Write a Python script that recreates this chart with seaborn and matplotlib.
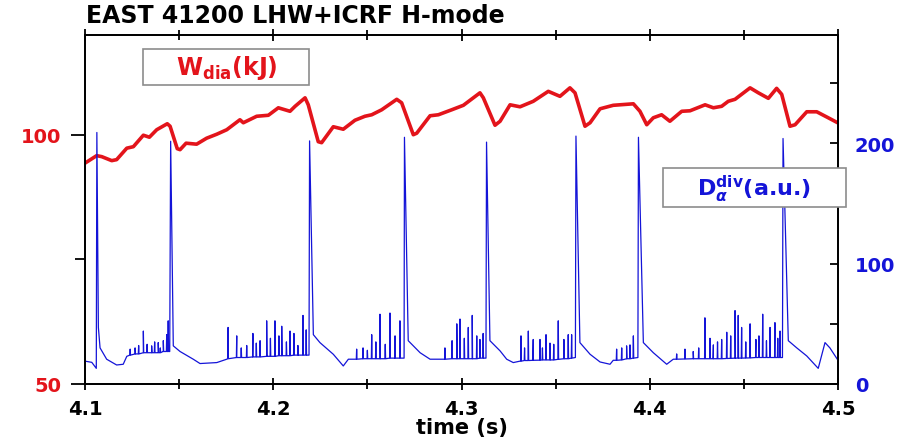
import numpy as np
import pandas as pd
import matplotlib
matplotlib.use("Agg")
import matplotlib.pyplot as plt
from matplotlib.patches import Rectangle
from matplotlib.ticker import MultipleLocator
import seaborn as sns

sns.set_theme(style="white")
plt.rcParams['font.family'] = ['DejaVu Sans']
plt.rcParams['mathtext.fontset'] = 'dejavusans'
plt.rcParams['mathtext.default'] = 'bf'

RED = '#e3141b'
BLUE = '#1414d8'

# ---- W_dia (kJ), left axis ----
w_time = [4.1000, 4.1062, 4.1089, 4.1142, 4.1168, 4.1222, 4.1257, 4.1310, 4.1342, 4.1381,
          4.1437, 4.1452, 4.1490, 4.1505, 4.1537, 4.1593, 4.1646, 4.1700, 4.1753, 4.1823,
          4.1841, 4.1912, 4.1974, 4.2027, 4.2089, 4.2116, 4.2169, 4.2186, 4.2239, 4.2257,
          4.2319, 4.2372, 4.2434, 4.2487, 4.2523, 4.2576, 4.2656, 4.2682, 4.2744, 4.2762,
          4.2833, 4.2877, 4.2948, 4.3010, 4.3098, 4.3116, 4.3178, 4.3205, 4.3258, 4.3311,
          4.3381, 4.3461, 4.3523, 4.3576, 4.3603, 4.3656, 4.3683, 4.3736, 4.3806, 4.3913,
          4.3948, 4.3984, 4.4019, 4.4063, 4.4107, 4.4170, 4.4214, 4.4294, 4.4338, 4.4382,
          4.4417, 4.4453, 4.4533, 4.4577, 4.4630, 4.4674, 4.4701, 4.4745, 4.4772, 4.4834,
          4.4887, 4.4948, 4.4998]
w_dia = [94.3, 95.8, 95.6, 94.8, 95.0, 97.3, 97.6, 99.9, 99.5, 101.0,
         102.2, 101.7, 97.2, 97.0, 98.3, 98.1, 99.3, 100.1, 101.0, 103.0,
         102.4, 103.7, 103.9, 105.4, 104.7, 105.7, 107.4, 106.0, 98.6, 98.4,
         101.6, 101.1, 102.9, 103.7, 104.0, 105.0, 107.1, 106.4, 100.0, 100.3,
         103.8, 104.0, 105.0, 105.9, 108.4, 107.4, 101.9, 102.7, 106.0, 105.6,
         106.7, 108.7, 107.7, 109.4, 108.4, 101.7, 102.4, 105.2, 105.9, 106.2,
         104.7, 102.0, 103.4, 104.0, 102.7, 104.7, 104.8, 106.0, 105.4, 105.7,
         106.7, 107.1, 109.4, 108.4, 107.3, 109.3, 108.1, 101.7, 102.0, 104.6,
         104.6, 103.4, 102.4]

# ---- D_alpha (a.u.), right axis: slow baseline ----
d_base_time = [4.1000, 4.1036, 4.1060, 4.1071, 4.1080, 4.1115, 4.1168, 4.1203, 4.1222, 4.1266,
               4.1310, 4.1354, 4.1389, 4.1416, 4.1450, 4.1469, 4.1505, 4.1575, 4.1611, 4.1700,
               4.1753, 4.1806, 4.1892, 4.1965, 4.2045, 4.2131, 4.2190, 4.2213, 4.2248, 4.2319,
               4.2372, 4.2399, 4.2477, 4.2567, 4.2647, 4.2695, 4.2717, 4.2780, 4.2833, 4.2886,
               4.2975, 4.3057, 4.3130, 4.3151, 4.3205, 4.3240, 4.3275, 4.3311, 4.3381, 4.3470,
               4.3544, 4.3605, 4.3629, 4.3683, 4.3736, 4.3789, 4.3806, 4.3877, 4.3937, 4.3966,
               4.4019, 4.4090, 4.4125, 4.4231, 4.4338, 4.4453, 4.4564, 4.4665, 4.4705, 4.4736,
               4.4781, 4.4834, 4.4895, 4.4931, 4.4957, 4.5000]
d_base = [19, 18, 13, 47, 30, 20.6, 15.8, 16.4, 23, 25,
          26, 26, 26.5, 27, 27, 31.7, 27, 20.6, 17, 17.8,
          20.6, 22, 22.5, 23, 23.5, 24, 24, 41, 34.4, 24.7,
          15, 20.6, 21, 21, 21.5, 21.5, 36, 26, 20.6, 20.6,
          21, 21, 21.5, 36, 27.5, 20.6, 17.8, 19, 19.7, 20,
          21, 22, 34.4, 24.7, 18.3, 16.4, 19.7, 21, 22, 34.4,
          26, 16.4, 20.6, 21, 21, 21.5, 22, 22, 22, 36,
          30, 23.3, 13, 34.4, 30, 19.7]

# ---- large ELM spikes ----
elm_time = [4.1063, 4.1455, 4.2193, 4.2697, 4.3133, 4.3608, 4.3940, 4.4708]
elm_peak = [209, 201.7, 202, 205, 201, 206, 205, 204]

# ---- small spikes between ELMs ----
sp_time = [4.1240, 4.1266, 4.1285, 4.1310, 4.1330, 4.1354, 4.1370, 4.1389, 4.1400, 4.1416, 4.1434, 4.1442,
           4.1760, 4.1806, 4.1830, 4.1859, 4.1892, 4.1910, 4.1930, 4.1965, 4.1985, 4.2009, 4.2030,
           4.2045, 4.2070, 4.2089, 4.2110, 4.2131, 4.2158, 4.2175,
           4.2443, 4.2477, 4.2500, 4.2523, 4.2545, 4.2567, 4.2595, 4.2620, 4.2647, 4.2673,
           4.2912, 4.2950, 4.2975, 4.2992, 4.3015, 4.3036, 4.3057, 4.3081, 4.3098, 4.3115,
           4.3316, 4.3335, 4.3355, 4.3381, 4.3417, 4.3430, 4.3449, 4.3470, 4.3490, 4.3514, 4.3544,
           4.3567, 4.3585,
           4.3824, 4.3851, 4.3877, 4.3895, 4.3913,
           4.4143, 4.4187, 4.4231, 4.4260, 4.4293, 4.4320, 4.4338, 4.4360, 4.4382, 4.4409, 4.4430,
           4.4453, 4.4470, 4.4488, 4.4510, 4.4533, 4.4564, 4.4580, 4.4600, 4.4620, 4.4639, 4.4665,
           4.4680, 4.4692]
sp_peak = [29, 30, 32, 44, 33, 31.7, 35, 34.4, 30, 36, 41, 52.5,
           47, 40, 30, 32, 42, 34, 36, 52.5, 38, 52.5, 40,
           48, 35, 44, 42, 32, 57, 45,
           29, 30, 28, 41, 35, 58, 33, 59, 40, 52.5,
           30, 36, 50, 54, 38, 47, 57, 40, 37, 42,
           40, 30, 44, 37, 37, 30, 41, 34, 33, 52.5, 37,
           41, 41,
           29, 30, 31.7, 32.5, 40,
           25, 29, 27, 30, 55, 38, 32.5, 35, 37, 43, 40,
           61, 57, 47, 35, 50, 37, 40, 58, 36, 47, 51,
           38, 44]
sp_base = [24, 25, 25, 26, 26, 26, 26, 26, 26, 27, 27, 27,
           21, 22, 22, 22, 22.5, 22.5, 22.5, 23, 23, 23, 23.5,
           23.5, 23.5, 23.5, 24, 24, 24, 24,
           20.6, 21, 21, 21, 21, 21, 21, 21.5, 21.5, 21.5,
           20.6, 21, 21, 21, 21, 21, 21, 21, 21.5, 21.5,
           19, 19.5, 19.5, 19.7, 19.8, 20, 20, 20, 20, 20.5, 21,
           21, 21.5,
           19.7, 20, 21, 21, 21.5,
           20.6, 20.8, 21, 21, 21, 21, 21, 21, 21, 21.2, 21.3,
           21.5, 21.5, 21.5, 21.6, 21.7, 22, 22, 22, 22, 22, 22,
           22, 22]

# ---- tables ----
df_w = pd.DataFrame({'t': w_time, 'W': w_dia})
dw = 0.00018
rows = list(zip(d_base_time, d_base)) + list(zip(elm_time, elm_peak))
for t, p, b in zip(sp_time, sp_peak, sp_base):
    rows += [(t - dw, b), (t, p), (t + dw, b)]
df_d = pd.DataFrame(rows, columns=['t', 'D']).sort_values('t').reset_index(drop=True)

# ---- figure ----
fig = plt.figure(figsize=(9.08, 4.39), dpi=100)
ax = fig.add_axes([85/908, 1-385/439, (838-85)/908, (385-36)/439])
ax2 = ax.twinx()

sns.lineplot(data=df_w, x='t', y='W', ax=ax, color=RED, lw=2.6,
             estimator=None, sort=False)
sns.lineplot(data=df_d, x='t', y='D', ax=ax2, color=BLUE, lw=0.9,
             estimator=None, sort=False)

ax.set_xlim(4.1, 4.5)
ax.set_ylim(50, 120)
ax2.set_ylim(0, 290)
ax.set_facecolor('white')

for a in (ax, ax2):
    for s in a.spines.values():
        s.set_visible(True)
        s.set_color('black')
        s.set_linewidth(1.3)
    a.grid(False)
    a.set_xlabel('')
    a.set_ylabel('')

ax.set_xticks([4.1, 4.2, 4.3, 4.4, 4.5])
ax.set_xticklabels(['4.1', '4.2', '4.3', '4.4', '4.5'])
ax.xaxis.set_minor_locator(MultipleLocator(0.05))
ax.set_yticks([50, 100])
ax.set_yticklabels(['50', '100'])
ax.yaxis.set_minor_locator(MultipleLocator(25))
ax2.set_yticks([0, 100, 200])
ax2.set_yticklabels(['0', '100', '200'])
ax2.yaxis.set_minor_locator(MultipleLocator(50))

ax.tick_params(axis='x', which='both', bottom=True, top=True, direction='inout',
               labelsize=14, labelcolor='black', color='black', pad=6, width=1.3)
ax.tick_params(axis='x', which='major', length=9)
ax.tick_params(axis='x', which='minor', length=7)
ax.tick_params(axis='y', which='both', left=True, right=False, direction='out',
               labelsize=14, labelcolor=RED, color='black', pad=7, width=1.3)
ax.tick_params(axis='y', which='major', length=10)
ax.tick_params(axis='y', which='minor', length=7)
ax2.tick_params(axis='y', which='both', right=True, left=False, direction='in',
                labelsize=14, labelcolor=BLUE, color='black', pad=12, width=1.3)
ax2.tick_params(axis='y', which='major', length=6)
ax2.tick_params(axis='y', which='minor', length=6)
for lab in ax.get_xticklabels() + ax.get_yticklabels() + ax2.get_yticklabels():
    lab.set_fontweight('bold')

fig.text(462/908, 1-428/439, 'time (s)', ha='center', va='center',
         fontsize=15, fontweight='bold', color='black')
fig.text(86/908, 1-16/439, 'EAST 41200 LHW+ICRF H-mode', ha='left', va='center',
         fontsize=17, fontweight='bold', color='black')

# legend boxes
fig.patches.append(Rectangle((143/908, 1-86/439), 166/908, 36/439, transform=fig.transFigure,
                             fc='white', ec='#8c8c8c', lw=1.2, zorder=5))
fig.patches.append(Rectangle((663/908, 1-208/439), 183/908, 39/439, transform=fig.transFigure,
                             fc='white', ec='#8c8c8c', lw=1.2, zorder=5))
fig.text(227/908, 1-68/439, r'W$_{dia}$(kJ)', ha='center', va='center',
         fontsize=17, fontweight='bold', color=RED, zorder=6)
fig.text(754/908, 1-189/439, r'D$_{\boldsymbol{\alpha}}^{div}$(a.u.)',
         ha='center', va='center', fontsize=16, fontweight='bold', color=BLUE, zorder=6)

fig.savefig('out.png', dpi=100)
